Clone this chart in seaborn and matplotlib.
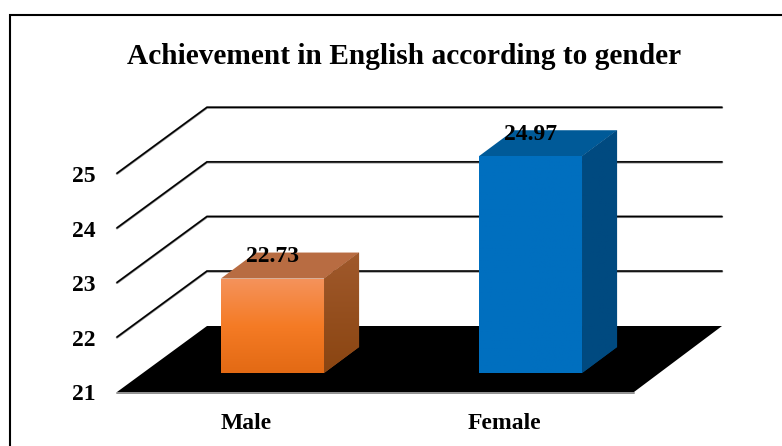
import numpy as np
import pandas as pd
import seaborn as sns
from matplotlib import pyplot as plt
from matplotlib.colors import LinearSegmentedColormap
from matplotlib.lines import Line2D
from matplotlib.patches import Polygon, Rectangle

genders = ["Male", "Female"]
scores = [22.73, 24.97]
y_ticks = [21, 22, 23, 24, 25]
title = "Achievement in English according to gender"

base = 21
px_w, px_h = 782, 446
unit_x = 258  # pixels between the two bars
unit_y = 54.6  # pixels per score point
zero_x, zero_y = 272.5, 373  # pixel of first bar centre at the base value

front_colors = [["#F4935C", "#F57B25", "#E36A14"], ["#006FBF", "#006FBF", "#006FBF"]]
side_colors = [["#A0592C", "#8A4511"], ["#004A80", "#004A80"]]
top_colors = ["#B86C42", "#005A98"]


def dx(px):
    return px / unit_x


def dy(px):
    return -px / unit_y


def to_xy(px, py):
    return (px - zero_x) / unit_x, base + (zero_y - py) / unit_y


def gradient_fill(ax, patch, colors):
    # vertical gradient clipped to the patch
    xs, ys = patch.get_xy().T
    cmap = LinearSegmentedColormap.from_list("face", colors)
    ramp = np.linspace(0, 1, 128).reshape(-1, 1)
    img = ax.imshow(ramp, cmap=cmap, aspect="auto", zorder=patch.get_zorder(),
                    extent=(xs.min(), xs.max(), ys.min(), ys.max()), origin="upper")
    img.set_clip_path(patch)


def draw_walls(ax):
    # floor first, then grid lines for the upper ticks
    fl, bl = (117, 392), (207, 326)
    floor = [to_xy(*fl), to_xy(*bl), to_xy(722, 326), to_xy(634, 392)]
    ax.add_patch(Polygon(floor, closed=True, facecolor="black", edgecolor="none", zorder=1))
    x0, y0 = to_xy(*fl)
    x1, y1 = to_xy(*bl)
    x2, _ = to_xy(722, 326)
    for tick in y_ticks[1:]:
        step = tick - base
        ax.plot([x0, x1, x2], [y0 + step, y1 + step, y1 + step], color="#8a8a8a", lw=1.8, zorder=1,
                solid_joinstyle="miter")
        ax.plot([x0, x1, x2], [y0 + step + 0.006, y1 + step + 0.006, y1 + step + 0.006],
                color="black", lw=1.1, zorder=1.1, solid_joinstyle="miter")
    x3, _ = to_xy(634, 392)
    ax.plot([x0, x3], [y0 - 0.012, y0 - 0.012], color="#909090", lw=1.4, zorder=1)
    for tick in y_ticks:
        ax.text(to_xy(84, 0)[0], y0 + tick - base + dy(3), str(tick), ha="center", va="center",
                fontsize=17, fontweight="bold", color="black")


def draw_bars(ax, data):
    sns.barplot(data=data, x="gender", y="height", hue="gender", dodge=False, legend=False,
                palette=[c[1] for c in front_colors], width=0.4, bottom=base,
                saturation=1, ax=ax, zorder=3, edgecolor="none")
    bars = [p for p in ax.patches if isinstance(p, Rectangle)]
    bars.sort(key=lambda p: p.get_x())
    depth_x, depth_y = dx(35), dy(26)
    for i, bar in enumerate(bars):
        x = bar.get_x()
        w = bar.get_width()
        b = bar.get_y()
        t = b + bar.get_height()
        top = Polygon([(x, t), (x + depth_x, t - depth_y), (x + w + depth_x, t - depth_y), (x + w, t)],
                      closed=True, facecolor=top_colors[i], edgecolor="none", zorder=3)
        ax.add_patch(top)
        side = Polygon([(x + w, b), (x + w + depth_x, b - depth_y), (x + w + depth_x, t - depth_y), (x + w, t)],
                       closed=True, facecolor=side_colors[i][0], edgecolor="none", zorder=3)
        ax.add_patch(side)
        gradient_fill(ax, side, side_colors[i])
        face = Polygon(bar.get_corners(), closed=True, facecolor="none", edgecolor="none", zorder=3.5)
        ax.add_patch(face)
        gradient_fill(ax, face, front_colors[i])
        ax.text(x + w / 2, t - dy(22), f"{scores[i]:.2f}", ha="center", va="center",
                fontsize=17, fontweight="bold", color="black", zorder=5)
        ax.text(x + w / 2 - dx(26), to_xy(0, 423)[1], genders[i], ha="center", va="center",
                fontsize=17, fontweight="bold", color="black", zorder=5)


def main():
    sns.set_style("white")
    plt.rcParams["font.family"] = ["Liberation Serif", "DejaVu Serif"]
    data = pd.DataFrame({"gender": genders, "height": np.array(scores) - base})

    fig = plt.figure(figsize=(px_w / 100, px_h / 100), dpi=100)
    ax = fig.add_axes([0, 0, 1, 1])
    draw_walls(ax)
    draw_bars(ax, data)

    x_left, y_bottom = to_xy(0, px_h)
    x_right, y_top = to_xy(px_w, 0)
    ax.set_xlim(x_left, x_right)
    ax.set_ylim(y_bottom, y_top)
    ax.axis("off")

    # outer chart border, only its left and top edges fall inside the picture
    fx, fy = 10 / px_w, 1 - 15 / px_h
    fig.add_artist(Line2D([fx, fx, 1], [0, fy, fy], transform=fig.transFigure, color="black", lw=1.5,
                          solid_joinstyle="miter"))
    fig.text(404 / px_w, 1 - 57 / px_h, title, ha="center", va="center",
             fontsize=21.2, fontweight="bold", color="black")
    fig.savefig("out.png", dpi=100)


main()
